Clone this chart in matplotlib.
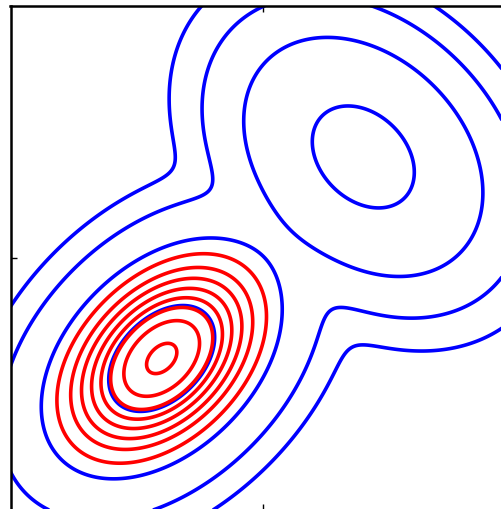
import numpy as np
import matplotlib
matplotlib.use("Agg")
import matplotlib.pyplot as plt

# Mixture components (means, std devs, correlation, weights)
means = [(-2.0, -2.0), (2.0, 2.0)]
stds = [(1.0, 1.0), (1.0, 1.0)]
rhos = [0.4, -0.3]
weights = [0.5, 0.5]

# contour levels
blue_levels = [5e-5, 5e-4, 5e-3, 5e-2]
red_levels = [0.020, 0.034, 0.049, 0.066, 0.084, 0.104, 0.131, 0.166]

xlim = (-5, 5)
ylim = (-5, 5)
ticks = [0]


def gauss(X, Y, m, s, r):
    dx = (X - m[0]) / s[0]
    dy = (Y - m[1]) / s[1]
    q = (dx**2 - 2 * r * dx * dy + dy**2) / (1 - r**2)
    return np.exp(-0.5 * q) / (2 * np.pi * s[0] * s[1] * np.sqrt(1 - r**2))


x = np.linspace(-6, 6, 800)
y = np.linspace(-6, 6, 800)
X, Y = np.meshgrid(x, y)
mix = sum(w * gauss(X, Y, m, s, r) for w, m, s, r in zip(weights, means, stds, rhos))
red = gauss(X, Y, means[0], stds[0], rhos[0])

fig = plt.figure(figsize=(5.01, 5.10), dpi=100)
ax = fig.add_axes([10.5 / 501, -0.6 / 510, 504 / 501, 503.8 / 510])
ax.contour(X, Y, mix, levels=blue_levels, colors=[(0, 0, 1)], linewidths=2.6)
ax.contour(X, Y, red, levels=red_levels, colors=[(1, 0, 0)], linewidths=2.6)
ax.set_xlim(*xlim)
ax.set_ylim(*ylim)
ax.set_xticks(ticks)
ax.set_yticks(ticks)
ax.set_xticklabels([])
ax.set_yticklabels([])
ax.tick_params(direction="in", length=4, width=1, top=True, right=True)
for sp in ax.spines.values():
    sp.set_linewidth(1.8)
fig.savefig("out.png", dpi=100)
